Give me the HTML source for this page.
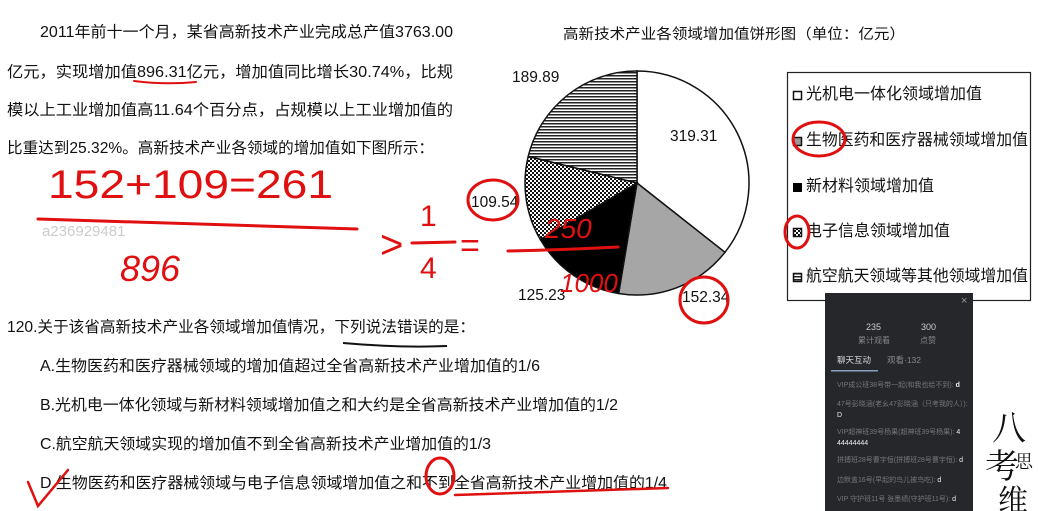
<!DOCTYPE html>
<html><head><meta charset="utf-8"><style>
html,body{margin:0;padding:0;background:#fff;}
svg{display:block;font-family:"Liberation Sans","Noto Sans CJK SC",sans-serif;}
</style></head><body>
<svg id="root" width="1038" height="511" viewBox="0 0 1038 511">
<defs>
<pattern id="hstripe" width="4" height="3" patternUnits="userSpaceOnUse"><rect width="4" height="3" fill="#fff"/><rect width="4" height="1.5" fill="#222"/></pattern>
<pattern id="check" width="4" height="4" patternUnits="userSpaceOnUse"><rect width="4" height="4" fill="#fff"/><rect width="2" height="2" fill="#111"/><rect x="2" y="2" width="2" height="2" fill="#111"/></pattern>
</defs>
<g font-size="15.5" fill="#111">
<text x="40" y="37" textLength="413" lengthAdjust="spacingAndGlyphs">2011年前十一个月，某省高新技术产业完成总产值3763.00</text>
<text x="7" y="77" textLength="446" lengthAdjust="spacingAndGlyphs">亿元，实现增加值896.31亿元，增加值同比增长30.74%，比规</text>
<text x="7" y="115" textLength="446" lengthAdjust="spacingAndGlyphs">模以上工业增加值高11.64个百分点，占规模以上工业增加值的</text>
<text x="7" y="153" textLength="427" lengthAdjust="spacingAndGlyphs">比重达到25.32%。高新技术产业各领域的增加值如下图所示：</text>
</g>
<text x="42" y="236" font-size="15" fill="#ccc">a236929481</text>
<text x="563" y="39" font-size="14.5" fill="#111" textLength="342" lengthAdjust="spacingAndGlyphs">高新技术产业各领域增加值饼形图（单位：亿元）</text>
<g id="pie"></g>
<g font-size="15.5" fill="#111">
<text x="512" y="82">189.89</text>
<text x="670" y="141">319.31</text>
<text x="471" y="207">109.54</text>
<text x="518" y="300">125.23</text>
<text x="682" y="302">152.34</text>
</g>
<g>
<rect x="787.5" y="72.5" width="243" height="228" fill="#fff" stroke="#222" stroke-width="1.2"/>
<g font-size="16" fill="#111">
<rect x="793.5" y="91.5" width="8" height="8" fill="#fff" stroke="#111" stroke-width="1.5"/><text x="806" y="99">光机电一体化领域增加值</text>
<rect x="793.5" y="137.5" width="8" height="8" fill="#999" stroke="#111" stroke-width="1.5"/><text x="806" y="145" textLength="222" lengthAdjust="spacingAndGlyphs">生物医药和医疗器械领域增加值</text>
<rect x="793" y="183" width="9" height="9" fill="#000"/><text x="806" y="191">新材料领域增加值</text>
<rect x="793.5" y="228.5" width="8" height="8" fill="url(#check)" stroke="#111" stroke-width="1.5"/><text x="806" y="236">电子信息领域增加值</text>
<rect x="793.5" y="273.5" width="8" height="8" fill="url(#hstripe)" stroke="#111" stroke-width="1.5"/><text x="806" y="281" textLength="222" lengthAdjust="spacingAndGlyphs">航空航天领域等其他领域增加值</text>
</g></g>
<g font-size="15.5" fill="#111">
<text x="7" y="332" textLength="468" lengthAdjust="spacingAndGlyphs">120.关于该省高新技术产业各领域增加值情况，下列说法错误的是：</text>
<text x="40" y="371" textLength="500" lengthAdjust="spacingAndGlyphs">A.生物医药和医疗器械领域的增加值超过全省高新技术产业增加值的1/6</text>
<text x="40" y="410" textLength="578" lengthAdjust="spacingAndGlyphs">B.光机电一体化领域与新材料领域增加值之和大约是全省高新技术产业增加值的1/2</text>
<text x="40" y="449" textLength="451" lengthAdjust="spacingAndGlyphs">C.航空航天领域实现的增加值不到全省高新技术产业增加值的1/3</text>
<text x="40" y="488" textLength="627" lengthAdjust="spacingAndGlyphs">D.生物医药和医疗器械领域与电子信息领域增加值之和不到全省高新技术产业增加值的1/4</text>
</g>
<path d="M343 343 Q400 348 447 346" stroke="#111" stroke-width="2" fill="none"/>
<g>
<rect x="825" y="293" width="148" height="218" fill="#25272b"/>
<text x="961" y="304" font-size="11" fill="#999">×</text>
<text x="866" y="330" font-size="9" fill="#ccc">235</text><text x="921" y="330" font-size="9" fill="#ccc">300</text>
<text x="858" y="343" font-size="8" fill="#888">累计观看</text><text x="920" y="343" font-size="8" fill="#888">点赞</text>
<text x="837" y="363" font-size="8.5" fill="#ddd">聊天互动</text><text x="887" y="363" font-size="8.5" fill="#888">观看·132</text>
<rect x="831" y="370" width="47" height="1.5" fill="#8aa0c0"/>
<g font-size="7" fill="#777">
<text x="837" y="387">VIP成公班38号带一起(和我也给不到): <tspan fill="#eee" font-weight="bold">d</tspan></text>
<text x="837" y="406">47号彭晓涵(老幺47彭晓涵（只考我的人）):</text><text x="837" y="417" fill="#eee">D</text>
<text x="837" y="434">VIP超神班39号杨果(超神班39号杨果): <tspan fill="#eee">4</tspan></text><text x="837" y="445" fill="#eee">44444444</text>
<text x="837" y="462">拼搏班28号曹宇恒(拼搏班28号曹宇恒): <tspan fill="#eee">d</tspan></text>
<text x="837" y="482">边默盖16号(早起的鸟儿被鸟吃): <tspan fill="#eee">d</tspan></text>
<text x="837" y="501">VIP 守护班11号 张墨绩(守护班11号): <tspan fill="#eee">d</tspan></text>
</g></g>
<g font-family="'Noto Serif CJK SC',serif" fill="#111">
<text x="992" y="440" font-size="34">八</text><text x="985" y="478" font-size="34">考</text><text x="1015" y="468" font-size="18">思</text><text x="998" y="511" font-size="30">维</text>
</g>
<g stroke="#e01010" fill="none" stroke-width="3" stroke-linecap="round">
<text x="48" y="198" font-size="40" fill="#e01010" stroke="none" textLength="285" lengthAdjust="spacingAndGlyphs">152+109=261</text>
<path d="M38 219 Q180 224 357 229"/>
<text x="120" y="281" font-size="36" fill="#e01010" stroke="none" font-style="italic">896</text>
<text x="380" y="258" font-size="40" fill="#e01010" stroke="none">&gt;</text>
<text x="420" y="226" font-size="30" fill="#e01010" stroke="none">1</text>
<path d="M412 243 L455 242"/>
<text x="420" y="278" font-size="30" fill="#e01010" stroke="none">4</text>
<text x="460" y="257" font-size="34" fill="#e01010" stroke="none">=</text>
<text x="545" y="238" font-size="28" fill="#e01010" stroke="none" font-style="italic">250</text>
<path d="M508 251 Q560 250 618 247"/>
<text x="560" y="292" font-size="26" fill="#e01010" stroke="none" font-style="italic">1000</text>
<ellipse cx="493" cy="200" rx="25" ry="20"/>
<ellipse cx="704" cy="300" rx="24" ry="23"/>
<path d="M134 81 Q165 85 196 82" stroke-width="2"/>
<ellipse cx="819" cy="139" rx="26" ry="17"/>
<ellipse cx="797" cy="232" rx="12" ry="16"/>
<ellipse cx="440" cy="476" rx="14" ry="18"/>
<path d="M455 495 Q560 492 668 488" stroke-width="2.5"/>
<path d="M28 482 L38 506 L68 470" stroke-width="2.5"/>
</g>
</svg>
<script>
var categories=["光机电一体化","生物医药和医疗器械","新材料","电子信息","航空航天等其他"];
var values=[319.31,152.34,125.23,109.54,189.89];
var fills=["#fff","#a6a6a6","#000","url(#check)","url(#hstripe)"];
var cx=637,cy=183,r=112;
var g=document.getElementById('pie');
var total=values.reduce(function(a,b){return a+b;},0);
var a0=0;
function pt(a){return [cx+r*Math.sin(a),cy-r*Math.cos(a)];}
for(var i=0;i<values.length;i++){
 var a1=a0+values[i]/total*2*Math.PI;
 var p0=pt(a0),p1=pt(a1),large=(a1-a0)>Math.PI?1:0;
 var p=document.createElementNS('http://www.w3.org/2000/svg','path');
 p.setAttribute('d','M'+cx+' '+cy+' L'+p0[0]+' '+p0[1]+' A'+r+' '+r+' 0 '+large+' 1 '+p1[0]+' '+p1[1]+' Z');
 p.setAttribute('fill',fills[i]);
 p.setAttribute('stroke','#111');
 p.setAttribute('stroke-width','1.5');
 
 
 g.appendChild(p);
 a0=a1;
}
</script>
</body></html>
